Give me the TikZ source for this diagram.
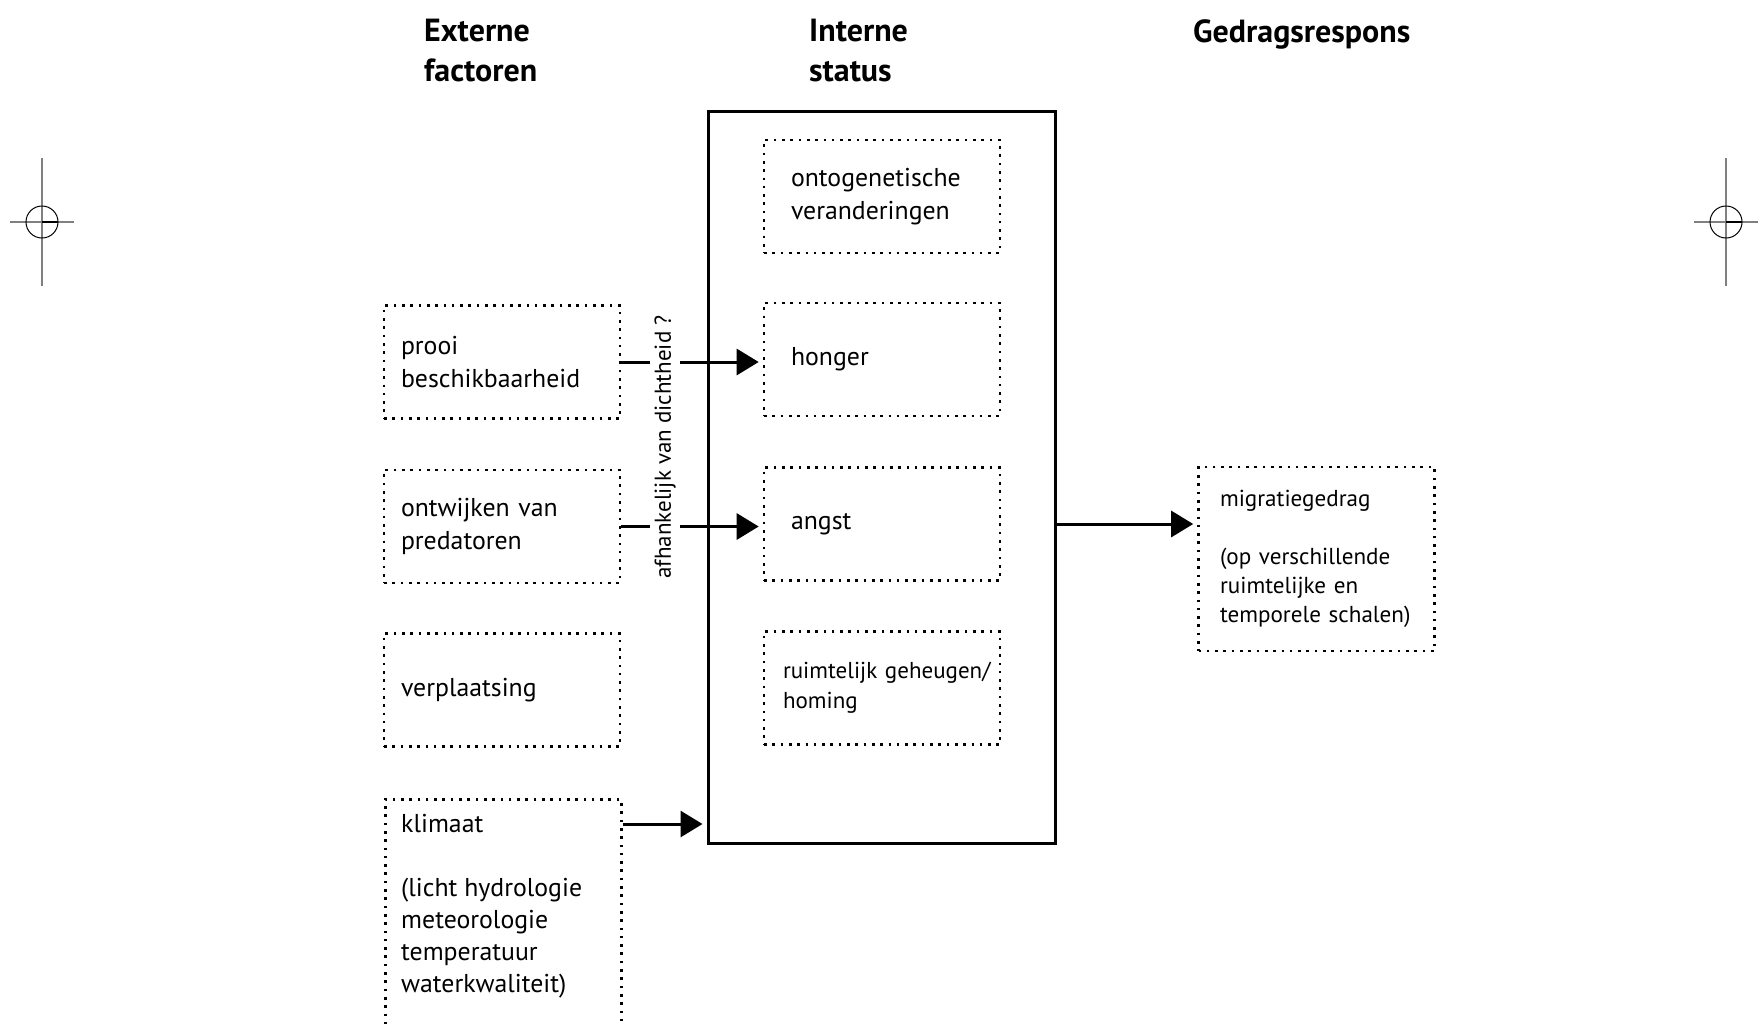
\documentclass[tikz,border=0pt]{standalone}
\usepackage{fontspec}
\setmainfont{PT Sans}
\usetikzlibrary{arrows.meta}

\tikzset{
  stip/.style={line width=2.6pt, dash pattern=on 2.6pt off 5.7pt},
  vak/.style={draw, stip, minimum width=236pt, minimum height=113pt,
    inner ysep=0pt, align=left, font=\fontsize{25.8}{32.5}\selectfont},
  extern/.style={vak, text width=202pt, inner xsep=17pt},
  intern/.style={vak, text width=182pt, inner xsep=27pt},
  pijl/.style={line width=3pt, -{Triangle[length=22pt,width=26pt]}, shorten >=4pt},
  kop/.style={font=\bfseries\fontsize{32}{40}\selectfont, align=left, inner sep=0pt},
  passer/.style={black!50, line width=1.8pt},
}

\begin{document}
\begin{tikzpicture}[x=1pt, y=-1pt]
\useasboundingbox (0,0) rectangle (1760,1026);
\clip (0,0) rectangle (1760,1026);

% paskruisen
\foreach \mx in {42,1726} {
  \draw[passer] (\mx,158) -- (\mx,286);
  \draw[passer] (\mx-32,222) -- (\mx+32,222);
  \draw[line width=1pt] (\mx,222) circle [radius=16];
  \draw[line width=2.6pt] (\mx,222) -- (\mx+16,222);
}

% kopjes
\node[kop, anchor=west] (kopextern) at (424,51) {Externe\\factoren};
\node[kop, anchor=west] (kopintern) at (809,51) {Interne\\status};
\node[kop, anchor=west] (kopgedrag) at (1193,34) {Gedragsrespons};

% externe factoren
\node[extern] (prooi) at (502,362) {prooi\\beschikbaarheid};
\node[extern] (ontwijken) at (502,526.5) {ontwijken van\\predatoren};
\node[extern] (verplaatsing) at (502,690) {verplaatsing};
\node[extern, minimum height=260pt, anchor=north west] (klimaat) at (384,798) {};
\node[anchor=north west, inner sep=0pt, align=left, font=\fontsize{25.8}{32}\selectfont]
  (klimaattekst) at (401,814) {klimaat\\[32pt](licht hydrologie\\meteorologie\\temperatuur\\waterkwaliteit)};

% interne status
\node[draw, line width=3pt, minimum width=347pt, minimum height=732pt] (status) at (881.5,477) {};
\node[intern] (onto) at (882,196.5) {ontogenetische\\veranderingen};
\node[intern] (honger) at (882,359.5) {honger};
\node[intern] (angst) at (882,524) {angst};
\node[intern, text width=198pt, inner xsep=19pt, font=\fontsize{23}{30.3}\selectfont]
  (geheugen) at (882,688) {ruimtelijk~geheugen/\\homing};

% gedragsrespons
\node[vak, text width=193pt, inner xsep=21pt, minimum height=184pt,
  font=\fontsize{23.1}{29}\selectfont] (migratie) at (1316.5,559)
  {migratiegedrag\\[29pt](op verschillende\\ruimtelijke en\\temporele~schalen)};

% pijlen
\draw[pijl] (prooi.east) -- (prooi.east -| honger.west);
\draw[pijl] (ontwijken.east) -- (ontwijken.east -| angst.west);
\draw[pijl] ([yshift=-26pt]klimaat.north east) -- ([yshift=-26pt]klimaat.north east -| status.west);
\draw[pijl] (angst -| status.east) -- (angst -| migratie.west);

\node[rotate=90, fill=white, inner xsep=0pt, inner ysep=4pt,
  font=\fontsize{23}{28}\selectfont] (dichtheid) at (665,447) {afhankelijk van dichtheid ?};
\end{tikzpicture}
\end{document}
